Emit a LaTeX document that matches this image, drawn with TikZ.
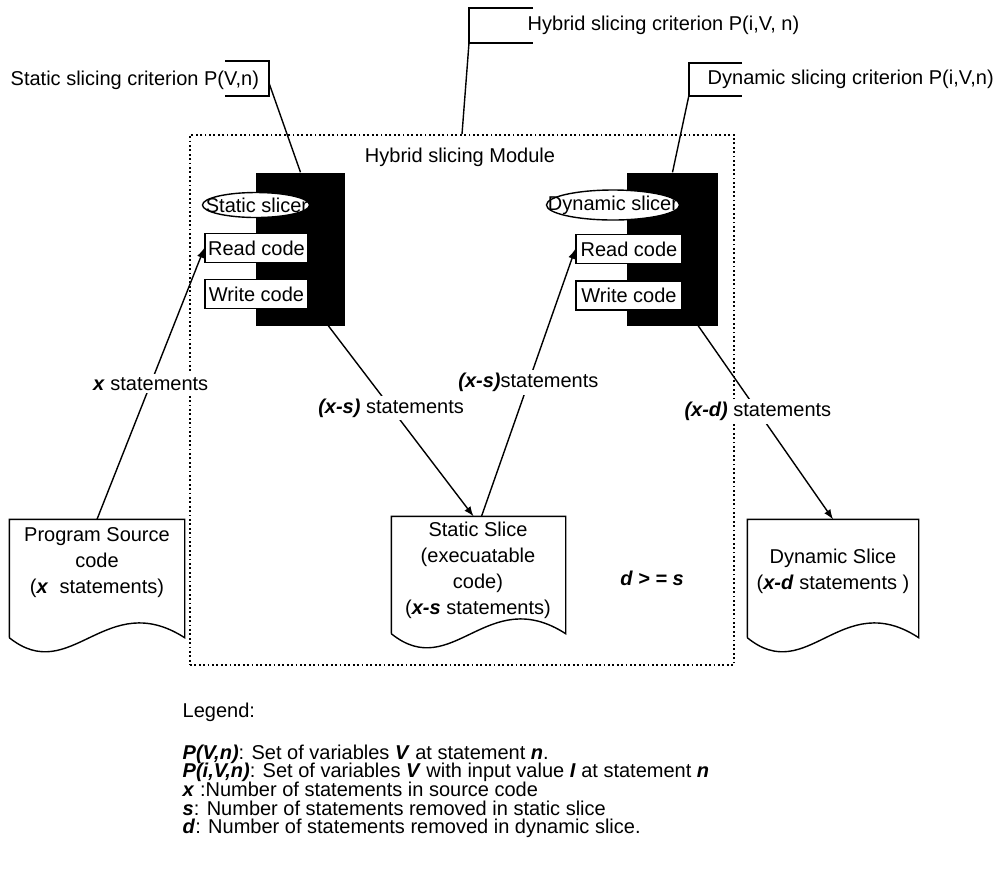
\documentclass[tikz,border=0pt]{standalone}
\usepackage{fontspec}
\setmainfont{Liberation Sans}
\usetikzlibrary{
arrows,
arrows.meta,
calc,
fit,
positioning
}
\tikzset{>=latex}
\newcommand{\bi}[1]{\textbf{\textit{#1}}}

\begin{document}
\begin{tikzpicture}[x=0.5pt, y=-0.5pt, line width=0.7pt,
		every node/.style={font=\fontsize{10}{13}\selectfont},
		codebox/.style={draw, fill=white, minimum height=14.5pt, inner xsep=1pt, inner ysep=0pt},
		blackbox/.style={fill=black, inner sep=0pt},
		lbl/.style={fill=white, inner sep=1.5pt},
		doctext/.style={align=center, inner sep=0pt},
		moduleframe/.style={draw, dash pattern=on 0.9pt off 1.3pt, line width=0.9pt, inner sep=0pt}]
		\useasboundingbox (0,0) rectangle (1000,869);

		% module frame
		\node[moduleframe, fit={(190,135) (734,665)}] (mod) {};
		\node (modtitle) at (460,157) {Hybrid slicing Module};

		% criteria with their brackets
		\node[anchor=west, inner sep=0pt] (scrit) at (10,80) {Static slicing criterion P(V,n)};
		\node[anchor=west, inner sep=0pt] (hcrit) at (527,25) {Hybrid slicing criterion P(i,V, n)};
		\node[anchor=west, inner sep=0pt] (dcrit) at (707,79) {Dynamic slicing criterion P(i,V,n)};
		\draw (225,61) -- (269,61) -- (269,96) -- (225,96);
		\draw (533,8) -- (469,8) -- (469,43) -- (533,43);
		\draw (742,63) -- (689,63) -- (689,96) -- (742,96);
		\coordinate (sb) at (269,83);
		\coordinate (hb) at (469,43);
		\coordinate (db) at (689,95);

		% static slicer
		\node[blackbox, fit={(256,173) (345,326)}] (sblk) {};
		\draw[fill=white] (256,205) ellipse [x radius=53.5, y radius=12.5];
		\node[inner sep=0pt] (sslicer) at (257,205) {Static slicer};
		\node[codebox, minimum width=51.5pt] (sread) at (256.5,248) {Read code};
		\node[codebox, minimum width=51.5pt] (swrite) at (256.5,294) {Write code};

		% dynamic slicer
		\node[blackbox, fit={(627,173) (718,326)}] (dblk) {};
		\draw[fill=white] (613,205) ellipse [x radius=66.5, y radius=15];
		\node[inner sep=0pt] (dslicer) at (613,205) {Dynamic slicer};
		\node[codebox, minimum width=53pt] (dread) at (629,249) {Read code};
		\node[codebox, minimum width=53pt] (dwrite) at (629,295.5) {Write code};

		% documents
		\node[fit={(10,520) (184,637)}, inner sep=0pt] (prog) {};
		\draw (prog.south west) -- (prog.north west) -- (prog.north east) -- (prog.south east)
			.. controls (105.7,587) and (70.9,687) .. (prog.south west);
		\node[doctext] (progtext) at (97,563) {Program Source\\code\\(\bi{x}\ \ statements)};

		\node[fit={(392,517) (565,633)}, inner sep=0pt] (sslice) {};
		\draw (sslice.south west) -- (sslice.north west) -- (sslice.north east) -- (sslice.south east)
			.. controls (487.2,583) and (452.6,683) .. (sslice.south west);
		\node[doctext] (sslicetext) at (478,570) {Static Slice\\(execuatable\\code)\\(\bi{x-s} statements)};

		\node[fit={(748,520) (918,637)}, inner sep=0pt] (dslice) {};
		\draw (dslice.south west) -- (dslice.north west) -- (dslice.north east) -- (dslice.south east)
			.. controls (841.5,587) and (807.5,687) .. (dslice.south west);
		\node[doctext] (dslicetext) at (833,571) {Dynamic Slice\\(\bi{x-d} statements )};

		\node (rel) at (652,578) {\bi{d > = s}};

		% leaders
		\draw (sb) -- (sblk.north);
		\draw (hb) -- (mod.north);
		\draw (db) -- (dblk.north);

		% flows
		\draw[->] (prog.north) -- node[lbl] {\bi{x} statements} (sread.west);
		\draw[->] ($(swrite.east)+(0,6)$) -- node[lbl] {\bi{(x-s)} statements} ($(sslice.north)+(-5,0)$);
		\draw[->] ($(sslice.north)+(3,0)$) -- node[lbl] {\bi{(x-s)}statements} (dread.west);
		\draw[->] ($(dwrite.east)+(0,8)$) -- node[lbl] {\bi{(x-d)} statements} (dslice.north);

		% legend
		\node[anchor=west, inner sep=0pt] (legend) at (182,712) {Legend:};
		\node[anchor=north west, inner sep=0pt, align=left, font={\fontsize{10}{9.3}\selectfont\lineskiplimit=-5pt\relax}] (legbody) at (182,744)
			{\bi{P(V,n)}: Set of variables \bi{V} at statement \bi{n}.\\
			 \bi{P(i,V,n)}: Set of variables \bi{V} with input value \bi{I} at statement \bi{n}\\
			 \bi{x} :Number of statements in source code\\
			 \bi{s}: Number of statements removed in static slice\\
			 \bi{d}: Number of statements removed in dynamic slice.};
	\end{tikzpicture}
\end{document}
